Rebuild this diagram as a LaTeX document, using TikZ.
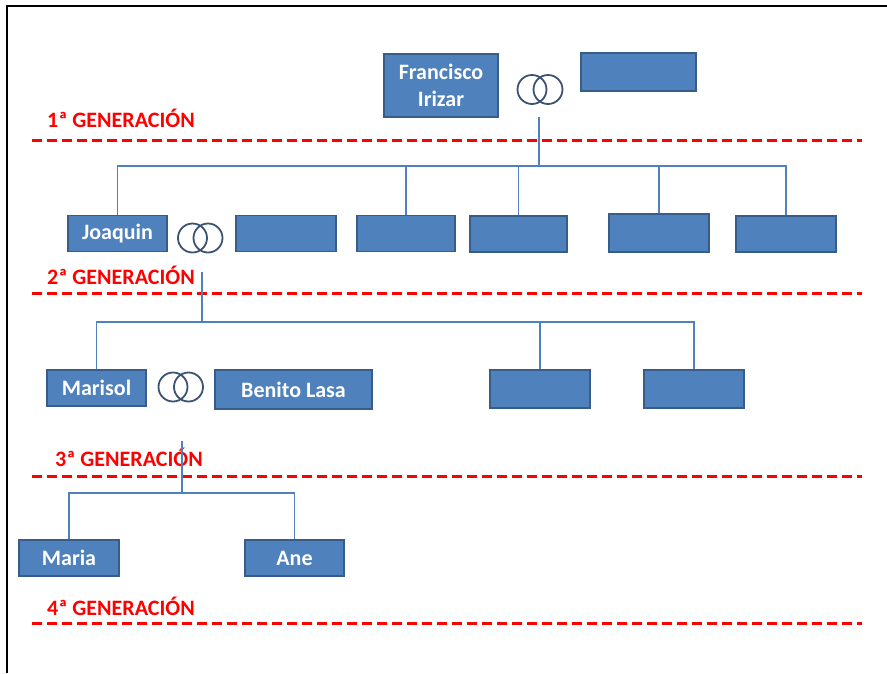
\documentclass[tikz,border=0pt]{standalone}
\usepackage{fontspec}
\setmainfont{Carlito}
\usepackage{tikz}
\usetikzlibrary{positioning, calc}

\begin{document}
\begin{tikzpicture}[x=1pt,y=-1pt,
  caja/.style={draw=bordeColor, fill=cajaColor, line width=1.1pt, text=white,
    minimum width=99pt, minimum height=36pt, inner sep=0pt,
    font=\fontsize{22}{27.5}\selectfont\bfseries},
  enlace/.style={draw=enlaceColor, line width=1.4pt},
  anillo/.style={circle, draw=anilloColor, line width=1.8pt, minimum size=29pt, inner sep=0pt},
  generacion/.style={text=rojoColor, anchor=west, inner sep=0pt,
    font=\fontsize{22}{26}\selectfont\bfseries},
  linea/.style={draw=rojoColor, line width=3pt, dash pattern=on 10pt off 5pt}]
\definecolor{cajaColor}{RGB}{79,129,189}
\definecolor{bordeColor}{RGB}{56,93,138}
\definecolor{enlaceColor}{RGB}{79,129,189}
\definecolor{anilloColor}{RGB}{60,82,115}
\definecolor{rojoColor}{RGB}{255,0,0}
\useasboundingbox (0,0) rectangle (887,673);

\draw[line width=2pt] (6.5,673) -- (6.5,6) -- (887,6);

\node[caja, minimum width=114pt, minimum height=63pt, align=center] (francisco) at (441,85.5) {Francisco\\Irizar};
\node[anillo] (anillos1a) at (532,89.5) {};
\node[anillo] (anillos1b) at (548,89.5) {};
\node[caja, minimum width=115pt, minimum height=38pt] (conyuge1) at (638.5,72) {};

\node[generacion] (gen1) at (47,118) {1ª GENERACIÓN};
\path[linea] (32,140) -- (862,140);

\node[caja] (joaquin) at (117.5,233.5) {Joaquin};
\node[anillo] (anillos2a) at (192.5,238) {};
\node[anillo] (anillos2b) at (208,238) {};
\node[caja, minimum width=100pt] (conyuge2) at (286,233.5) {};
\node[caja, minimum width=98pt] (hijo3) at (406,233.5) {};
\node[caja, minimum width=97pt] (hijo4) at (518.5,234) {};
\node[caja, minimum width=100pt, minimum height=38pt] (hijo5) at (659,233) {};
\node[caja, minimum width=100pt] (hijo6) at (786,234) {};

\node[generacion] (gen2) at (47,275) {2ª GENERACIÓN};
\path[linea] (32,293) -- (862,293);

\node[caja] (marisol) at (96.5,388) {Marisol};
\node[anillo] (anillos3a) at (173,387) {};
\node[anillo] (anillos3b) at (188.5,387) {};
\node[caja, minimum width=157pt, minimum height=39pt] (benito) at (293.5,389.5) {Benito Lasa};
\node[caja, minimum width=100pt, minimum height=38pt] (nieto2) at (540,389) {};
\node[caja, minimum width=100pt, minimum height=38pt] (nieto3) at (694,389) {};

\node[generacion] (gen3) at (55,457) {3ª GENERACIÓN};
\path[linea] (32,476) -- (862,476);

\node[caja, minimum width=100pt] (maria) at (69,558) {Maria};
\node[caja] (ane) at (294.5,558) {Ane};

\node[generacion] (gen4) at (47,606) {4ª GENERACIÓN};
\path[linea] (32,623) -- (862,623);

\coordinate (baja1) at (539,117);
\coordinate (bus1) at (539,166);
\coordinate (baja2) at (202,272);
\coordinate (bus2) at (202,322);
\coordinate (baja3) at (182,441);
\coordinate (bus3) at (182,493);

\path[enlace] (baja1) -- (bus1);
\path[enlace] (joaquin.north) |- (bus1) -| (hijo6.north);
\path[enlace] (hijo3.north) -- (hijo3.north |- bus1);
\path[enlace] (hijo4.north) -- (hijo4.north |- bus1);
\path[enlace] (hijo5.north) -- (hijo5.north |- bus1);

\path[enlace] (baja2) -- (bus2);
\path[enlace] (marisol.north) |- (bus2) -| (nieto3.north);
\path[enlace] (nieto2.north) -- (nieto2.north |- bus2);

\path[enlace] (baja3) -- (bus3);
\path[enlace] (maria.north) |- (bus3) -| (ane.north);
\end{tikzpicture}
\end{document}
